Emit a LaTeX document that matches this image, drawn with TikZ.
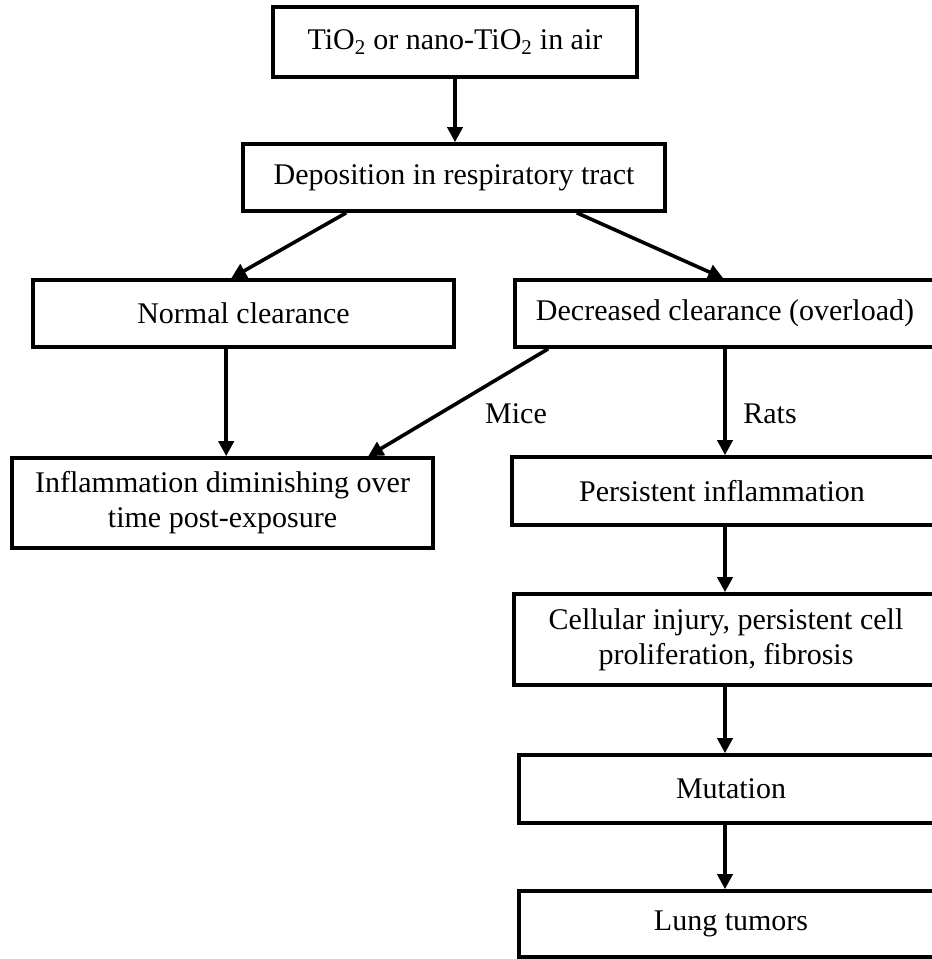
\documentclass[tikz,border=0pt]{standalone}
\usepackage{fontspec}
\setmainfont{Liberation Serif}
\usetikzlibrary{arrows.meta}
\tikzset{
  box/.style={draw, line width=3.6pt, inner sep=0pt, align=center},
  txt/.style={inner sep=0pt, align=center},
  arr/.style={line width=3.6pt, -{Triangle[length=15pt,width=15pt]}},
}
\begin{document}
\begin{tikzpicture}[x=1pt,y=-1pt, font=\fontsize{30}{35}\selectfont]
\useasboundingbox (0,0) rectangle (932,959);
\clip (0,0) rectangle (932,959);
% boxes
\node[box, minimum width=364pt, minimum height=70pt] (b1) at (455,42) {TiO\textsubscript{2} or nano-TiO\textsubscript{2} in air};
\node[box, minimum width=422pt, minimum height=67pt] (b2) at (454,177.5) {Deposition in respiratory tract};
\node[box, minimum width=421pt, minimum height=67pt] (b3) at (243.5,313.5) {Normal clearance};
\node[box, minimum width=435pt, minimum height=67pt] (b4) at (732.5,313.5) {};
\node[txt] (t4) at (725,313.5) {Decreased clearance (overload)};
\node[box, minimum width=421pt, minimum height=90pt] (b5) at (222.5,503) {Inflammation diminishing over\\time post-exposure};
\node[box, minimum width=438pt, minimum height=68pt] (b6) at (731,491) {};
\node[txt] (t6) at (722,491) {Persistent inflammation};
\node[box, minimum width=436pt, minimum height=91pt] (b7) at (732,639.5) {};
\node[txt] (t7) at (726,639.5) {Cellular injury, persistent cell\\proliferation, fibrosis};
\node[box, minimum width=431pt, minimum height=68pt] (b8) at (734.5,789) {};
\node[txt] (t8) at (731,789) {Mutation};
\node[box, minimum width=431pt, minimum height=66pt] (b9) at (734.5,924) {};
\node[txt] (t9) at (731,924) {Lung tumors};
% labels
\node[txt, anchor=base] (mice) at (516,423) {Mice};
\node[txt, anchor=base] (rats) at (770,423) {Rats};
% arrows
\draw[arr] (b1.south) -- (b1.south |- b2.north);
\draw[arr] ([xshift=105pt]b2.south west) -- ([xshift=200pt]b3.north west);
\draw[arr] ([xshift=-90pt]b2.south east) -- ([xshift=210pt]b4.north west);
\draw[arr] ([xshift=195pt]b3.south west) -- ([xshift=216pt]b5.north west);
\draw[arr] ([xshift=35pt]b4.south west) -- ([xshift=358pt]b5.north west);
\draw[arr] (t4 |- b4.south) -- (t4 |- b6.north);
\draw[arr] (t4 |- b6.south) -- (t4 |- b7.north);
\draw[arr] (t4 |- b7.south) -- (t4 |- b8.north);
\draw[arr] (t4 |- b8.south) -- (t4 |- b9.north);
\end{tikzpicture}
\end{document}
